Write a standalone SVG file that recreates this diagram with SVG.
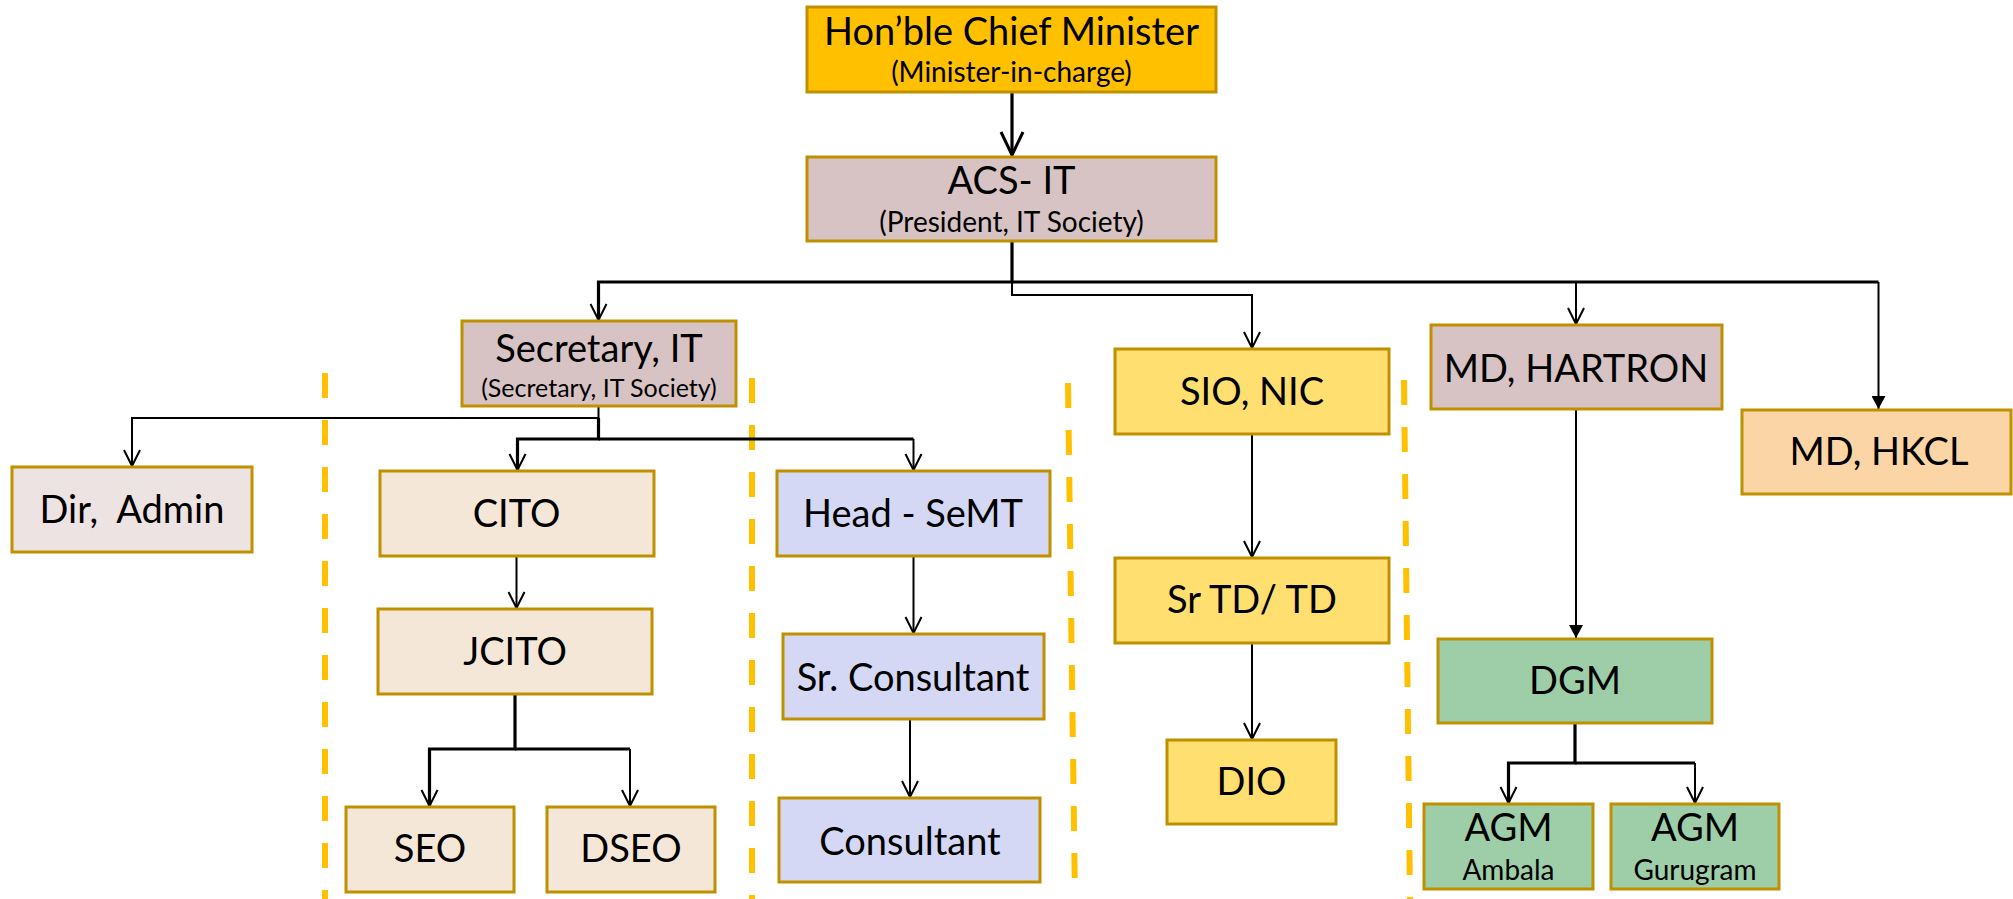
<svg xmlns="http://www.w3.org/2000/svg" width="2013" height="899" viewBox="0 0 2013 899">
<style>
.box{stroke:#BF9000;stroke-width:3}
.t{font-family:"Gill Sans MT","Gill Sans",Lato,"Liberation Sans",sans-serif;font-size:38px;fill:#000;text-anchor:middle}
.s{font-family:"Gill Sans MT","Gill Sans",Lato,"Liberation Sans",sans-serif;font-size:28px;fill:#000;text-anchor:middle}
.s2{font-size:25px}
.c{fill:none;stroke:#000;stroke-width:2}
.ck{fill:none;stroke:#000;stroke-width:3.2}
.d{fill:none;stroke:#FFC000;stroke-width:6;stroke-dasharray:25 22}
</style>
<defs>
<marker id="ao" markerUnits="userSpaceOnUse" viewBox="0 0 20 20" markerWidth="20" markerHeight="20" refX="18" refY="10" orient="auto"><path d="M2,2 L18,10 L2,18" fill="none" stroke="#000" stroke-width="2"/></marker>
<marker id="ab" markerUnits="userSpaceOnUse" viewBox="0 0 28 26" markerWidth="28" markerHeight="26" refX="25" refY="13" orient="auto"><path d="M2,2 L25,13 L2,24" fill="none" stroke="#000" stroke-width="3"/></marker>
<marker id="af" markerUnits="userSpaceOnUse" viewBox="0 0 14 14" markerWidth="14" markerHeight="14" refX="13" refY="7" orient="auto"><path d="M0,0 L13,7 L0,14 z" fill="#000"/></marker>
</defs>
<rect width="2013" height="899" fill="#fff"/>
<g id="dividers">
<line class="d" x1="325" y1="373" x2="325" y2="899"/>
<line class="d" x1="752" y1="378" x2="752" y2="899"/>
<line class="d" x1="1068" y1="383" x2="1075" y2="899"/>
<line class="d" x1="1404" y1="380" x2="1410" y2="899"/>
</g>
<g id="connectors">
<path class="ck" d="M1012,92 V155" marker-end="url(#ab)"/>
<path class="ck" d="M1012,242 V282 H598.5 V320" marker-end="url(#ao)"/>
<path class="ck" d="M1012,282 H1878.5"/>
<path class="c" d="M1576,282 V324" marker-end="url(#ao)"/>
<path class="c" d="M1878.5,282 V409" marker-end="url(#af)"/>
<path class="c" d="M1012,242 V295 H1252 V348" marker-end="url(#ao)"/>
<path class="c" d="M598.5,406 V418 H132 V466" marker-end="url(#ao)"/>
<path class="ck" d="M598.5,418 V439 H517.5 V470" marker-end="url(#ao)"/>
<path class="ck" d="M598.5,439 H913.5"/>
<path class="c" d="M913.5,439 V470" marker-end="url(#ao)"/>
<path class="c" d="M516.5,557 V608" marker-end="url(#ao)"/>
<path class="ck" d="M515,694 V749 H429.5 V806" marker-end="url(#ao)"/>
<path class="ck" d="M515,749 H630"/>
<path class="c" d="M630,749 V806" marker-end="url(#ao)"/>
<path class="c" d="M913.5,557 V633" marker-end="url(#ao)"/>
<path class="c" d="M910,720 V797" marker-end="url(#ao)"/>
<path class="c" d="M1252,435 V557" marker-end="url(#ao)"/>
<path class="c" d="M1252,644 V739" marker-end="url(#ao)"/>
<path class="c" d="M1576,410 V638" marker-end="url(#af)"/>
<path class="ck" d="M1575,724 V763 H1508.5 V803" marker-end="url(#ao)"/>
<path class="ck" d="M1575,763 H1695"/>
<path class="c" d="M1695,763 V803" marker-end="url(#ao)"/>
</g>
<g id="hon"><rect class="box" x="807" y="7" width="409" height="85" fill="#FFC000"/><text class="t" x="1011.5" y="45">Hon’ble Chief Minister</text><text class="s" x="1011.5" y="82">(Minister-in-charge)</text></g>
<g id="acs"><rect class="box" x="807" y="157" width="409" height="84" fill="#D8C3C4"/><text class="t" x="1011.5" y="194">ACS- IT</text><text class="s" x="1011.5" y="232">(President, IT Society)</text></g>
<g id="sec"><rect class="box" x="462" y="321" width="274" height="85" fill="#D8C3C4"/><text class="t" x="599" y="362">Secretary, IT</text><text class="s s2" x="599" y="397">(Secretary, IT Society)</text></g>
<g id="sio"><rect class="box" x="1115" y="349" width="274" height="85" fill="#FFDF70"/><text class="t" x="1252" y="405">SIO, NIC</text></g>
<g id="hartron"><rect class="box" x="1431" y="325" width="291" height="84" fill="#D8C3C4"/><text class="t" x="1576" y="382">MD, HARTRON</text></g>
<g id="hkcl"><rect class="box" x="1742" y="410" width="269" height="84" fill="#FBD5A6"/><text class="t" x="1879" y="465">MD, HKCL</text></g>
<g id="dir"><rect class="box" x="12" y="467" width="240" height="85" fill="#EEE3E3"/><text class="t" x="132" y="523" xml:space="preserve">Dir,  Admin</text></g>
<g id="cito"><rect class="box" x="380" y="471" width="274" height="85" fill="#F5E7D7"/><text class="t" x="516.5" y="527">CITO</text></g>
<g id="semt"><rect class="box" x="777" y="471" width="273" height="85" fill="#D5D8F5"/><text class="t" x="913" y="527">Head - SeMT</text></g>
<g id="jcito"><rect class="box" x="378" y="609" width="274" height="85" fill="#F5E7D7"/><text class="t" x="515" y="665">JCITO</text></g>
<g id="srcons"><rect class="box" x="783" y="634" width="261" height="85" fill="#D5D8F5"/><text class="t" x="913" y="691">Sr. Consultant</text></g>
<g id="seo"><rect class="box" x="346" y="807" width="168" height="85" fill="#F5E7D7"/><text class="t" x="430" y="862">SEO</text></g>
<g id="dseo"><rect class="box" x="547" y="807" width="168" height="85" fill="#F5E7D7"/><text class="t" x="631" y="862">DSEO</text></g>
<g id="cons"><rect class="box" x="779" y="798" width="261" height="84" fill="#D5D8F5"/><text class="t" x="910" y="855">Consultant</text></g>
<g id="srtd"><rect class="box" x="1115" y="558" width="274" height="85" fill="#FFDF70"/><text class="t" x="1252" y="613">Sr TD/ TD</text></g>
<g id="dio"><rect class="box" x="1167" y="740" width="169" height="84" fill="#FFDF70"/><text class="t" x="1251.5" y="795">DIO</text></g>
<g id="dgm"><rect class="box" x="1438" y="639" width="274" height="84" fill="#9DCEA8"/><text class="t" x="1575" y="694">DGM</text></g>
<g id="agm1"><rect class="box" x="1424" y="804" width="169" height="85" fill="#9DCEA8"/><text class="t" x="1508.5" y="841">AGM</text><text class="s" x="1508.5" y="880">Ambala</text></g>
<g id="agm2"><rect class="box" x="1611" y="804" width="168" height="85" fill="#9DCEA8"/><text class="t" x="1695" y="841">AGM</text><text class="s" x="1695" y="880">Gurugram</text></g>
</svg>
